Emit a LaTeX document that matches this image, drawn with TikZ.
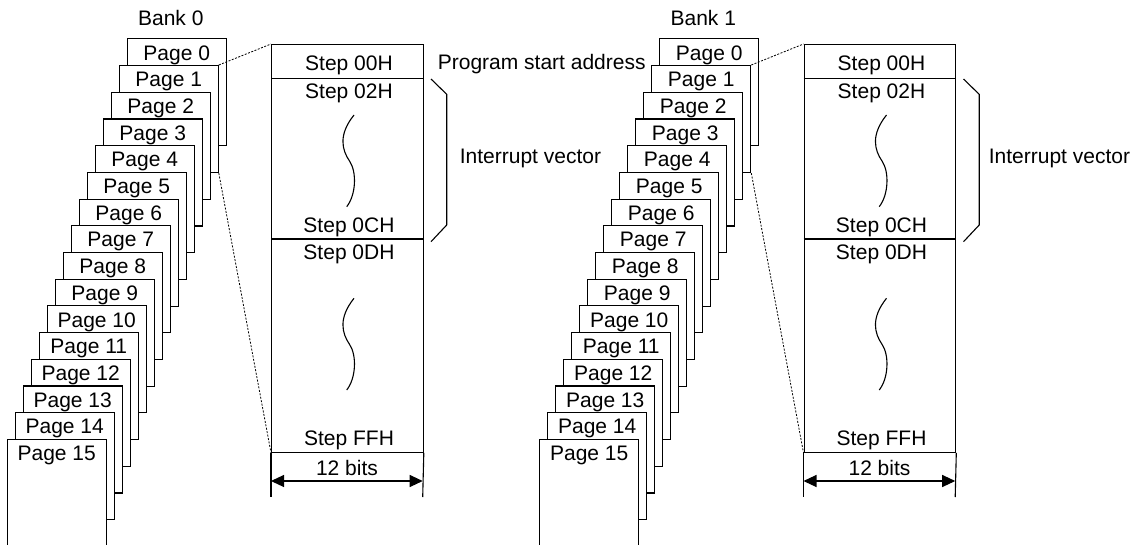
\documentclass[tikz,border=0pt]{standalone}
\usepackage{fontspec}
\setmainfont{Liberation Sans}
\usetikzlibrary{arrows.meta}

\tikzset{
  page/.style={draw, fill=white, minimum width=99pt, minimum height=107pt, inner sep=0pt, anchor=north west},
  memory/.style={draw, minimum width=151.7pt, minimum height=407.7pt, inner sep=0pt, anchor=north west},
  lbl/.style={inner sep=0pt, anchor=base},
  link/.style={line width=0.8pt, dash pattern=on 2pt off 1.5pt},
  dim/.style={{Triangle[length=13pt,width=12pt]}-{Triangle[length=13pt,width=12pt]}},
}

\begin{document}
\begin{tikzpicture}[x=1pt, y=-1pt, line width=1.1pt, font=\fontsize{21}{25}\selectfont]
\useasboundingbox (0,0) rectangle (1147,544);

\foreach \b in {0,1} {
  \begin{scope}[xshift=\b*532.5pt]
    % Bank title
    \node[lbl] (bank\b) at (170.8,25) {Bank \b};

    % Pages
    \foreach \i in {0,...,15} {
      \node[page] (p\b-\i) at (126.7-8*\i, 38.3+26.7*\i) {};
      \node[lbl] (t\b-\i) at ([yshift=-21.7pt]p\b-\i.north) {Page \i};
    }

    % Memory map
    \node[memory] (mem\b) at (271,44) {};
    \draw (271,78.3) -- (422.7,78.3);
    \draw (271,239) -- (422.7,239);
    \node[lbl] (s\b-00) at (349,70) {Step 00H};
    \node[lbl] (s\b-02) at (349,98.3) {Step 02H};
    \node[lbl] (s\b-0C) at (349,232.7) {Step 0CH};
    \node[lbl] (s\b-0D) at (349,259.3) {Step 0DH};
    \node[lbl] (s\b-FF) at (349,445) {Step FFH};

    % Omitted steps
    \draw (354,115) .. controls (338,135) and (342,150) .. (349.5,161)
      .. controls (357,172) and (356,195) .. (346.7,206.7);
    \draw (354,298.3) .. controls (338,318.3) and (342,333.3) .. (349.5,344.3)
      .. controls (357,355.3) and (356,378.3) .. (346.7,390);

    % Bracket
    \draw (431,79) -- (446.7,94.3) -- (446.7,225) -- (431,241.7);

    % Width
    \coordinate (bl\b) at (271,497);
    \coordinate (br\b) at (422.7,497);
    \draw (mem\b.south west) -- (bl\b);
    \draw (mem\b.south east) -- (br\b);
    \coordinate (al\b) at (271,481);
    \coordinate (ar\b) at (422.7,481);
    \draw[dim] (al\b) -- (ar\b);
    \node[lbl] (bits\b) at (347,475) {12 bits};

    % Links
    \draw[link] (p\b-1.north east) -- (mem\b.north west);
    \draw[link] (p\b-1.south east) -- (mem\b.south west);
  \end{scope}
}

% Labels
\node[lbl, anchor=base west] (psa) at (437.3,69.3) {Program start address};
\node[lbl, anchor=base west] (iv0) at (459.3,163.3) {Interrupt vector};
\node[lbl, anchor=base west] (iv1) at (988.3,163.3) {Interrupt vector};

\end{tikzpicture}
\end{document}
